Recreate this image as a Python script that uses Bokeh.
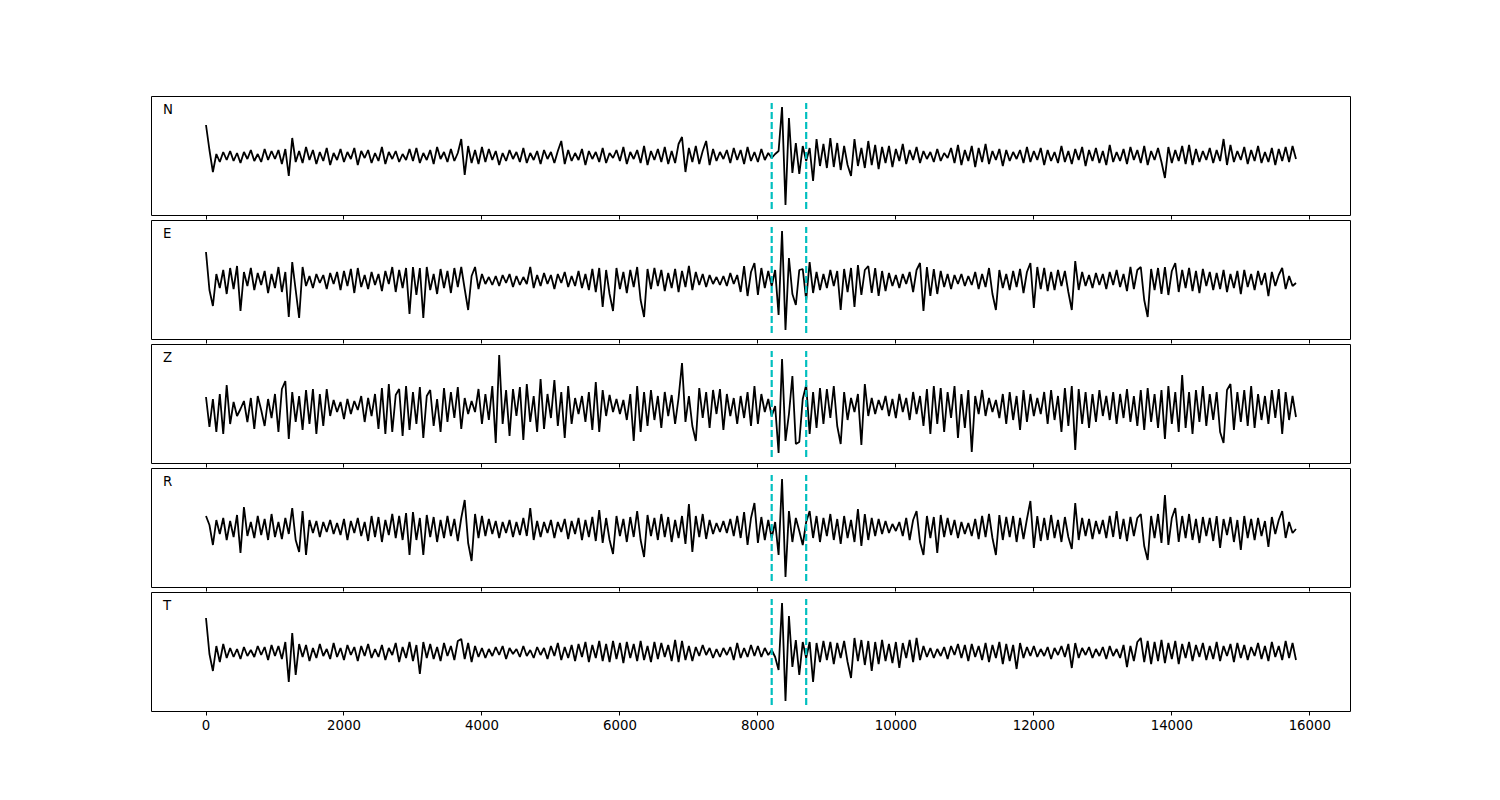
import numpy as np
from bokeh.plotting import figure
from bokeh.layouts import column
from bokeh.models import Range1d, FixedTicker, Label
from bokeh.embed import file_html
from bokeh.resources import INLINE

# sample spacing of the traces (x units)
dt = 50

n_vals = [
    31, 6, -16, 2, -6, 4, -4, 5, -5, 3, -7, 4, -3, 6, -5, 2, -6, 7, -4, 5,
    -3, 6, -8, 7, -20, 18, -6, 5, -7, 9, -4, 6, -8, 4, -5, 8, -9, 3, -4, 7,
    -6, 4, -3, 8, -9, 5, -2, 6, -7, 3, -5, 9, -8, 4, -3, 5, -6, 2, -4, 7,
    -5, 8, -7, 3, -4, 6, -8, 9, -3, 4, -6, 7, -5, 3, 17, -19, 10, -7, 6, -8,
    9, -6, 7, -4, 5, -9, 3, -5, 6, -3, 4, -6, 8, -7, 3, -4, 5, -8, 6, -3,
    4, -7, 5, 15, -8, 6, -5, 3, -4, 7, -9, 5, -3, 4, -6, 8, -7, 3, -2, 6,
    -5, 9, -8, 4, -3, 6, -7, 10, -9, 5, -4, 7, -6, 9, -8, 5, -7, 12, 19, -16,
    8, -6, 10, -8, 5, 15, -9, 7, -5, 4, -3, 6, -7, 8, -4, 6, -8, 9, -5, 4,
    -6, 7, -4, 3, -2, 2, 5, 49, -49, 38, -17, 13, -18, 10, -5, 8, -25, 17, -10, 12,
    -12, 18, -11, 13, -14, 10, -9, -20, 17, -10, 8, -12, 15, -9, 11, -13, 9, -7, 10, -11,
    7, -5, 12, -8, 6, -4, 9, -7, 5, -3, 4, -6, 7, -5, 3, -2, 8, -7, 11, -9,
    6, -5, 10, -11, 8, -6, 12, -8, 5, -4, 7, -10, 6, -5, 4, -3, 6, -7, 9, -6,
    5, -4, 8, -9, 6, -5, 4, -7, 10, -6, 5, -8, 7, -4, 9, -10, 6, -5, 8, -7,
    5, -9, 11, -6, 4, -5, 7, -8, 9, -4, 6, -7, 10, -9, 5, -4, 8, -6, -22, 9,
    -7, 6, -5, 10, -8, 11, -9, 7, -6, 5, -4, 8, -7, 6, -5, 17, -9, 11, -6, 5,
    -4, 9, -8, 6, -5, 10, -7, 4, -6, 8, -9, 7, -5, 9, -6, 10, -3,
]

e_vals = [
    28, -10, -26, 6, -8, 10, -14, 12, -9, 14, -31, 8, -6, 12, -10, 7, -5, 9, -13, 6,
    -8, 13, -12, 8, -37, 18, -10, -38, 13, -6, 4, -8, 6, -3, 5, -9, 7, -4, 8, -10,
    9, -6, 11, -13, 12, -7, 5, -9, 8, -5, 6, -11, 9, -4, 13, -12, 10, -8, 12, -34,
    13, -15, 12, -38, 13, -10, 6, -14, 11, -8, 9, -13, 12, -7, 13, -9, -30, 4, 13, -9,
    6, -4, 3, -5, 4, -6, 5, -3, 6, -7, 4, -5, 3, -4, 13, -8, 5, -6, 7, -4,
    5, -9, 6, -3, 8, -7, 4, -6, 9, -8, 6, -10, 11, -12, 12, -27, 10, -14, -31, 12,
    -9, 8, -13, 10, -7, 13, -20, -37, 11, -9, 12, -6, 10, -11, 7, -8, 11, -12, 9, -7,
    14, -10, 8, -5, 6, -7, 5, -4, 3, -5, 4, -6, 7, -4, 5, -12, 14, -16, 8, 17,
    -15, 12, -8, 9, -6, 10, -35, 49, -50, 22, -14, -25, 10, 11, -20, 18, -13, 8, -10, 6,
    -8, 10, -6, 9, -30, 11, -12, 12, -27, 15, -15, 10, 14, -13, 12, -16, 9, -11, 7, -6,
    5, -8, 6, -4, 8, -12, 10, 17, -31, 13, -16, 11, -14, 9, -7, 6, -9, 5, -4, 6,
    -6, 4, -5, 8, -9, 6, -7, 12, -14, -30, 10, -8, 6, -10, 9, -7, 11, -13, 8, 17,
    -28, 13, -9, 12, -11, 8, -10, 10, -6, 9, -12, -30, 19, -10, 8, -6, 5, -8, 7, -5,
    6, -9, 8, -5, 10, -7, 6, -11, 13, -9, 10, 13, -20, -37, 11, -10, 12, -14, 13, -15,
    9, 17, -12, 10, -8, 12, -11, 9, -13, 11, -6, 8, -10, 7, -9, 10, -12, 6, -8, 9,
    -14, 10, -7, 6, -10, 9, -5, 7, -16, 8, -6, 5, 12, -9, 4, -6, -3,
]

z_vals = [
    7, -23, 5, -28, 10, -30, 19, -20, 2, -12, -5, 3, -18, 6, -25, 8, -6, -22, 5, -14,
    10, -28, 15, 23, -35, 12, -18, 8, -26, 14, -20, 15, -30, 10, -22, 15, -12, 4, -8, 2,
    -15, 5, -10, 3, -6, 8, -18, 6, -12, 10, -25, 16, -30, 20, -28, 9, 15, -32, 18, -26,
    12, -20, 17, -34, 8, 14, -22, 5, -28, 16, -18, 12, -14, 17, -25, 6, -10, 3, -8, 15,
    -20, 10, -16, 18, -39, 49, -20, 14, -32, 15, -12, 17, -36, 20, -18, 8, -28, 25, -25, 10,
    -14, 24, -22, 12, -34, 18, -20, 6, -10, 8, -18, 12, -26, 22, -28, 14, -12, 9, -8, 5,
    -10, 4, -16, 10, -37, 18, -28, 12, -22, 14, -16, 8, -24, 12, -12, 9, -20, 6, 41, -18,
    8, -22, -37, 16, -14, 12, -24, 14, -10, 15, -26, 10, -12, 6, -20, 8, -14, 12, -22, 18,
    -20, 10, -8, 5, -12, -2, -49, 45, -37, -10, 28, -40, -38, 5, 19, -30, 12, -24, 16, -20,
    15, -14, 18, -22, -40, 12, -16, 6, -8, 10, -41, 20, -12, 6, -10, 4, -6, 8, -12, 5,
    -14, 10, -8, 6, -16, 12, -10, 8, -22, 15, -30, 18, -20, 16, -28, 12, -14, 18, -34, 10,
    -24, 14, -48, 8, -10, 14, -12, 6, -8, 4, -14, 10, -20, 12, -16, 8, -26, 14, -18, 10,
    -12, 6, -10, 12, -20, 14, -16, 8, -28, 16, -22, 18, -46, 15, -20, 12, -24, 10, -18, 14,
    -12, 8, -16, 12, -20, 10, -14, 15, -18, 8, -22, 14, -26, 16, -18, 10, -24, 14, -35, 18,
    -20, 12, -28, 29, -24, 12, -30, 14, -18, 18, -22, 10, -16, 12, -28, -39, 14, 20, -26, 12,
    -18, 14, -22, 18, -24, 10, -16, 8, -20, 14, -14, 15, -30, 12, -16, 8, -13,
]

r_vals = [
    12, 3, -17, 8, -6, 10, -12, 7, -9, 13, -25, 21, -8, 6, -10, 12, -7, 9, -12, 14,
    -9, 6, -11, 10, -6, 20, -12, -24, 17, -27, 8, -5, 7, -9, 6, -4, 8, -6, 5, -7,
    9, -12, 7, -5, 10, -8, 6, -13, 12, -9, 11, -14, 8, -7, 14, -10, 12, -12, 15, -27,
    16, -12, 10, -27, 13, -9, 11, -14, 8, -10, 12, -8, 9, -13, 10, 28, -15, -33, 14, -10,
    12, -8, 9, -6, 7, -10, 6, -5, 8, -9, 6, -7, 10, -8, 20, -12, 7, -9, 6, -5,
    8, -10, 6, -4, 9, -11, 7, -6, 10, -12, 8, -9, 11, -13, 18, -15, 10, -12, -26, 12,
    -8, 9, -14, 11, -9, 17, -12, -29, 13, -8, 10, -12, 14, -9, 11, -14, 8, -10, 12, -16,
    24, -24, 12, -9, 14, -11, 8, -6, 5, -4, 7, -5, 9, -8, 12, -10, 16, -17, 10, 25,
    -15, 11, -12, 8, -10, 6, -27, 49, -49, 17, -14, 10, -3, -17, 6, 17, -10, 12, -14, 10,
    -8, 14, -12, 9, -16, 12, -10, 8, -14, 19, -18, 14, -12, 10, -8, 9, -6, 7, -5, 4,
    -3, 6, -8, 10, -12, 8, 17, -14, -27, 12, -10, 11, -25, 13, -9, 10, -7, 8, -10, 6,
    -6, 5, -8, 9, -11, 12, -9, 14, -10, -27, 13, -12, 11, -9, 12, -14, 10, -11, 9, 27,
    -20, 12, -13, 10, -12, 13, -10, 8, -14, 11, -9, -21, 25, -12, 10, -8, 9, -11, 7, -6,
    8, -10, 12, -9, 17, -11, 9, -13, 11, -8, 10, 14, -18, -32, 12, -10, 14, -15, 33, -17,
    10, 20, -14, 12, -10, 14, -12, 9, -15, 11, -8, 10, -13, 12, -20, 9, -7, 11, -14, 8,
    -22, 12, -10, 9, -12, 10, -8, 7, -19, 11, -6, 8, 17, -10, 6, -5, -1,
]

t_vals = [
    34, -2, -19, 6, -10, 8, -6, 4, -5, 3, -7, 5, -4, 2, -5, 6, -3, 5, -8, 7,
    -4, 6, -7, 10, -30, 19, -23, 8, -5, 7, -9, 4, -6, 8, -4, 3, -7, 9, -5, 4,
    -8, 7, -3, 5, -9, 6, -4, 8, -6, 3, -5, 7, -8, 4, -3, 9, -10, 5, -6, 10,
    -9, 7, -22, 10, -6, 8, -7, 5, -9, 9, -4, 6, -8, 11, 13, -7, 9, -10, 6, -5,
    4, -6, 3, -4, 5, -3, 6, -7, 4, -2, 3, -5, 6, -4, 2, -6, 5, -3, 4, -7,
    6, -4, 9, -8, 5, -6, 7, -9, 8, -5, 10, -10, 7, -6, 11, -9, 8, -10, 11, -7,
    9, -11, 10, -6, 8, -9, 11, -8, 6, -10, 10, -7, 9, -5, 7, -9, 12, -10, 11, -8,
    6, -9, 5, -4, 7, -3, 4, -6, 3, -5, 4, -3, 5, -8, 9, -6, 4, -5, 7, -4,
    6, -5, 4, -3, 2, -5, -18, 49, -49, 36, -15, 12, -23, 10, -6, 10, -30, 9, -10, 11,
    -8, 10, -12, 9, -6, 11, -10, -26, 14, -9, 12, -13, 11, -19, 10, -12, 12, -9, 8, -11,
    10, -16, 9, -6, 12, -10, 14, -8, 6, -5, 4, -6, 3, -4, 5, -7, 6, -3, 8, -6,
    7, -9, 8, -5, 6, -8, 9, -10, 7, -6, 10, -12, 8, -9, 7, -17, 9, -6, 5, -4,
    6, -5, 3, -4, 5, -7, 4, -3, 6, -5, 8, -16, 9, -6, 4, -3, 5, -6, 3, -4,
    5, -7, 6, -4, 3, -6, 7, -15, 6, -9, 10, 14, -10, 11, -12, 10, -9, 12, -11, 9,
    -7, 11, -12, 8, -6, 10, -9, 7, -5, 9, -8, 6, -7, 10, -9, 6, -4, 8, -10, 9,
    -6, 7, -8, 5, -4, 9, -7, 6, -9, 10, -5, 6, -8, 11, -6, 9, -8,
]

components = ["N", "E", "Z", "R", "T"]
traces = [n_vals, e_vals, z_vals, r_vals, t_vals]
picks = [8200, 8700]
pick_half_span = 53
xticks = [0, 2000, 4000, 6000, 8000, 10000, 12000, 14000, 16000]

FONT = "DejaVu Sans"
x_range = Range1d(-790, 16590)

figs = []
for i, (name, vals) in enumerate(zip(components, traces)):
    last = i == len(components) - 1
    p = figure(
        frame_width=1199, frame_height=119,
        x_range=x_range, y_range=Range1d(-59.5, 59.5),
        output_backend="svg", toolbar_location=None,
        min_border_left=151, min_border_right=140,
        min_border_top=96 if i == 0 else 0,
        min_border_bottom=50 if last else 5,
        background_fill_color="white", border_fill_color="white",
    )
    p.outline_line_color = "black"
    p.outline_line_width = 1
    p.grid.visible = False
    p.yaxis.visible = False
    ax = p.xaxis[0]
    ax.ticker = FixedTicker(ticks=xticks)
    ax.axis_line_color = None
    ax.major_tick_line_color = "black"
    ax.major_tick_line_width = 1
    ax.major_tick_out = 4
    ax.major_tick_in = 0
    ax.minor_tick_line_color = None
    if last:
        ax.major_label_text_font = FONT
        ax.major_label_text_font_size = "13.3px"
        ax.major_label_text_color = "black"
        ax.major_label_standoff = 4
    else:
        ax.major_label_text_font_size = "0px"
        ax.major_label_text_color = None
        ax.major_label_standoff = 0

    t = np.arange(len(vals)) * dt
    p.line(t, vals, line_color="black", line_width=1.8)
    p.segment(x0=picks, y0=[-pick_half_span] * len(picks),
              x1=picks, y1=[pick_half_span] * len(picks),
              line_color="#00BFBF", line_width=2.2, line_dash="7 3")
    p.add_layout(Label(x=-625, y=47, text=name, text_font=FONT,
                       text_font_size="13.3px", text_color="black",
                       text_baseline="middle", text_align="left"))
    figs.append(p)

layout = column(*figs, spacing=0)
open("out.html", "w").write(file_html(layout, INLINE))
